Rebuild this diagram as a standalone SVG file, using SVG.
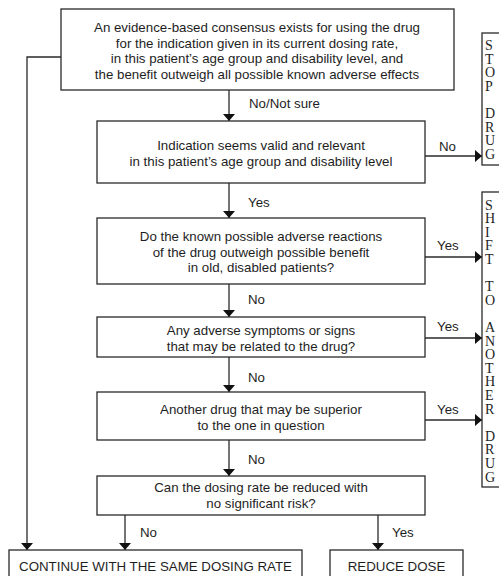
<svg xmlns="http://www.w3.org/2000/svg" width="499" height="576" viewBox="0 0 499 576">
<defs>
<style>
.box{fill:#fff;stroke:#2a2a2a;stroke-width:1.3}
.t{font-family:"Liberation Sans",Arial,sans-serif;font-size:13.3px;fill:#1e1e1e;text-anchor:middle}
.lbl{font-family:"Liberation Sans",Arial,sans-serif;font-size:13.3px;fill:#1e1e1e}
.v{font-family:"Liberation Serif",serif;font-size:14px;fill:#1e1e1e}
.c{fill:none;stroke:#2a2a2a;stroke-width:1.3}
</style>
<marker id="ah" viewBox="0 0 7 12" refX="7" refY="6" markerWidth="7" markerHeight="12" markerUnits="userSpaceOnUse" orient="auto">
<path d="M0,0 L7,6 L0,12 z" fill="#111"/>
</marker>
</defs>
<rect width="499" height="576" fill="#fff"/>
<g id="connectors">
<path class="c" d="M229,90 V121" marker-end="url(#ah)"/>
<path class="c" d="M229,183 V218" marker-end="url(#ah)"/>
<path class="c" d="M229,284 V317" marker-end="url(#ah)"/>
<path class="c" d="M229,357 V392" marker-end="url(#ah)"/>
<path class="c" d="M229,440 V476" marker-end="url(#ah)"/>
<path class="c" d="M125,515 V550" marker-end="url(#ah)"/>
<path class="c" d="M378,515 V550" marker-end="url(#ah)"/>
<path class="c" d="M61,57 H27 V550" marker-end="url(#ah)"/>
<path class="c" d="M425,156 H482" marker-end="url(#ah)"/>
<path class="c" d="M425,257 H482" marker-end="url(#ah)"/>
<path class="c" d="M425,338 H482" marker-end="url(#ah)"/>
<path class="c" d="M425,420 H482" marker-end="url(#ah)"/>
<text class="lbl" x="249" y="108">No/Not sure</text>
<text class="lbl" x="248" y="207">Yes</text>
<text class="lbl" x="248" y="304">No</text>
<text class="lbl" x="248" y="382">No</text>
<text class="lbl" x="248" y="464">No</text>
<text class="lbl" x="140" y="537">No</text>
<text class="lbl" x="392" y="537">Yes</text>
<text class="lbl" x="439" y="151">No</text>
<text class="lbl" x="437" y="250">Yes</text>
<text class="lbl" x="437" y="331">Yes</text>
<text class="lbl" x="437" y="414">Yes</text>
</g>
<g id="n1">
<rect class="box" x="61" y="9" width="393" height="81"/>
<text class="t" x="257" y="32">An evidence-based consensus exists for using the drug</text>
<text class="t" x="257" y="47.5">for the indication given in its current dosing rate,</text>
<text class="t" x="257" y="63">in this patient’s age group and disability level, and</text>
<text class="t" x="257" y="78.5">the benefit outweigh all possible known adverse effects</text>
</g>
<g id="n2">
<rect class="box" x="97" y="121" width="328" height="62"/>
<text class="t" x="261" y="150">Indication seems valid and relevant</text>
<text class="t" x="261" y="166">in this patient’s age group and disability level</text>
</g>
<g id="n3">
<rect class="box" x="97" y="218" width="328" height="66"/>
<text class="t" x="261" y="241">Do the known possible adverse reactions</text>
<text class="t" x="261" y="256.5">of the drug outweigh possible benefit</text>
<text class="t" x="261" y="272">in old, disabled patients?</text>
</g>
<g id="n4">
<rect class="box" x="97" y="317" width="328" height="40"/>
<text class="t" x="261" y="335">Any adverse symptoms or signs</text>
<text class="t" x="261" y="350.5">that may be related to the drug?</text>
</g>
<g id="n5">
<rect class="box" x="97" y="392" width="328" height="48"/>
<text class="t" x="261" y="414">Another drug that may be superior</text>
<text class="t" x="261" y="429.5">to the one in question</text>
</g>
<g id="n6">
<rect class="box" x="97" y="476" width="328" height="39"/>
<text class="t" x="261" y="492">Can the dosing rate be reduced with</text>
<text class="t" x="261" y="507.5">no significant risk?</text>
</g>
<g id="stop">
<rect class="box" x="482" y="33" width="30" height="132"/>
<text class="v" x="485"><tspan x="485" y="50">S</tspan><tspan x="485" y="63.6">T</tspan><tspan x="485" y="77.2">O</tspan><tspan x="485" y="90.8">P</tspan><tspan x="485" y="118">D</tspan><tspan x="485" y="131.6">R</tspan><tspan x="485" y="145.2">U</tspan><tspan x="485" y="158.8">G</tspan></text>
</g>
<g id="shift">
<rect class="box" x="482" y="192" width="30" height="295"/>
<text class="v" x="485"><tspan x="485" y="209.5">S</tspan><tspan x="485" y="223.1">H</tspan><tspan x="485" y="236.7">I</tspan><tspan x="485" y="250.3">F</tspan><tspan x="485" y="263.9">T</tspan><tspan x="485" y="291.1">T</tspan><tspan x="485" y="304.7">O</tspan><tspan x="485" y="331.9">A</tspan><tspan x="485" y="345.5">N</tspan><tspan x="485" y="359.1">O</tspan><tspan x="485" y="372.7">T</tspan><tspan x="485" y="386.3">H</tspan><tspan x="485" y="399.9">E</tspan><tspan x="485" y="413.5">R</tspan><tspan x="485" y="440.7">D</tspan><tspan x="485" y="454.3">R</tspan><tspan x="485" y="467.9">U</tspan><tspan x="485" y="481.5">G</tspan></text>
</g>
<g id="continue">
<rect class="box" x="9" y="550" width="293" height="40"/>
<text class="t" x="155.5" y="571">CONTINUE WITH THE SAME DOSING RATE</text>
</g>
<g id="reduce">
<rect class="box" x="330" y="550" width="133" height="40"/>
<text class="t" x="396.5" y="571">REDUCE DOSE</text>
</g>
</svg>
